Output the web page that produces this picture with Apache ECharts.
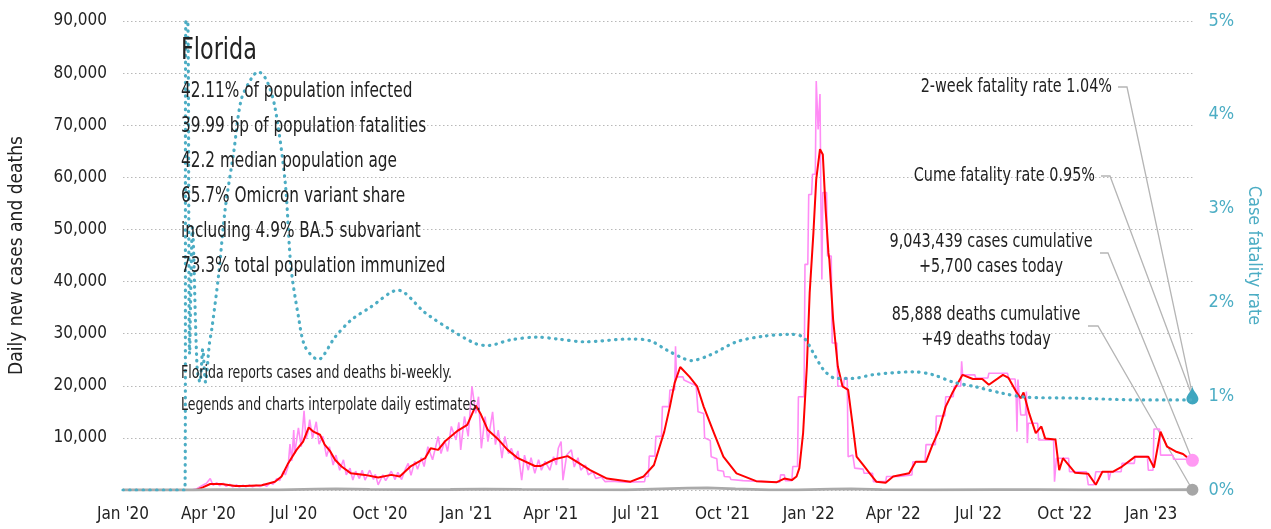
<!DOCTYPE html>
<html>
<head>
<meta charset="utf-8">
<title>Florida</title>
<script src="https://cdn.jsdelivr.net/npm/echarts@6/dist/echarts.min.js"></script>
<style>
  html, body { margin: 0; padding: 0; background: #fff; }
  #chart { width: 1271px; height: 529px; }
</style>
</head>
<body>
<div id="chart"></div>
<script>
// ---- data ----
const xTickDates = ['2020-01-01','2020-04-01','2020-07-01','2020-10-01','2021-01-01','2021-04-01','2021-07-01','2021-10-01','2022-01-01','2022-04-01','2022-07-01','2022-10-01','2023-01-01'];
const xTickLabels = ["Jan '20","Apr '20","Jul '20","Oct '20","Jan '21","Apr '21","Jul '21","Oct '21","Jan '22","Apr '22","Jul '22","Oct '22","Jan '23"];
const lastDate = '2023-02-14';

// daily new cases (raw, pink)
const dailyCases = [
  ['2020-01-01',0],['2020-03-14',0],['2020-03-20',300],['2020-03-26',900],['2020-03-30',1300],['2020-04-03',2200],
  ['2020-04-06',900],['2020-04-10',1400],['2020-04-13',800],['2020-04-17',1300],['2020-04-20',700],['2020-04-24',1100],
  ['2020-04-27',600],['2020-05-01',1000],['2020-05-04',550],['2020-05-08',900],['2020-05-11',600],['2020-05-15',950],
  ['2020-05-18',600],['2020-05-22',900],['2020-05-26',650],['2020-05-30',1100],['2020-06-02',700],['2020-06-06',1400],
  ['2020-06-09',1100],['2020-06-13',2200],['2020-06-16',1800],['2020-06-20',3600],['2020-06-22',2900],['2020-06-25',4500],
  ['2020-06-27',8800],['2020-06-29',5600],['2020-07-01',11500],['2020-07-02',7000],['2020-07-06',11900],['2020-07-09',8300],
  ['2020-07-12',15200],['2020-07-14',9800],['2020-07-16',10900],['2020-07-18',13500],['2020-07-21',9900],['2020-07-25',13100],
  ['2020-07-28',8800],['2020-08-01',10300],['2020-08-05',6400],['2020-08-08',8300],['2020-08-12',4800],['2020-08-15',6700],
  ['2020-08-19',3800],['2020-08-23',5800],['2020-08-26',2900],['2020-08-30',4200],['2020-09-02',1900],['2020-09-05',3600],
  ['2020-09-09',2200],['2020-09-12',3800],['2020-09-15',1900],['2020-09-20',3800],['2020-09-24',2000],['2020-09-26',3000],
  ['2020-09-29',1000],['2020-10-04',2900],['2020-10-07',1800],['2020-10-13',3600],['2020-10-17',2000],['2020-10-20',3400],
  ['2020-10-24',2000],['2020-10-28',4000],['2020-10-31',5100],['2020-11-03',2800],['2020-11-07',5500],['2020-11-10',4000],
  ['2020-11-14',6200],['2020-11-17',4500],['2020-11-21',8300],['2020-11-26',5800],['2020-12-02',10300],['2020-12-05',7000],
  ['2020-12-09',9500],['2020-12-12',7400],['2020-12-16',12200],['2020-12-21',9600],['2020-12-24',13000],['2020-12-26',7700],
  ['2020-12-30',14100],['2021-01-03',10300],['2021-01-07',19900],['2021-01-11',14700],['2021-01-14',17900],['2021-01-17',8000],
  ['2021-01-21',14100],['2021-01-24',9300],['2021-01-29',15000],['2021-02-01',8700],['2021-02-04',11500],['2021-02-08',6100],
  ['2021-02-11',10300],['2021-02-15',7000],['2021-02-18',8000],['2021-02-22',5800],['2021-02-25',7500],['2021-03-01',1900],
  ['2021-03-04',6700],['2021-03-08',3800],['2021-03-11',6200],['2021-03-15',3200],['2021-03-19',5800],['2021-03-22',3800],
  ['2021-03-26',5500],['2021-03-31',3800],['2021-04-04',6400],['2021-04-07',4800],['2021-04-09',8000],['2021-04-12',9300],
  ['2021-04-14',1900],['2021-04-18',6700],['2021-04-23',7700],['2021-04-26',4400],['2021-04-30',6200],['2021-05-03',3800],
  ['2021-05-08',4800],['2021-05-11',2900],['2021-05-16',3500],['2021-05-19',2200],['2021-05-25',2500],['2021-05-29',1600],
  ['2021-06-05',1700],['2021-06-12',1600],['2021-06-20',1500],['2021-07-10',1600],['2021-07-11',2600],['2021-07-14',2600],
  ['2021-07-15',6500],['2021-07-21',6500],['2021-07-22',10300],['2021-07-28',10300],['2021-07-29',16000],['2021-08-05',16000],
  ['2021-08-06',19200],['2021-08-11',19200],['2021-08-12',27600],['2021-08-13',21700],['2021-08-20',21700],['2021-08-21',21100],
  ['2021-09-03',20000],['2021-09-05',15000],['2021-09-11',14700],['2021-09-12',10000],['2021-09-18',9500],['2021-09-19',6400],
  ['2021-09-25',6000],['2021-09-26',3800],['2021-10-02',3600],['2021-10-03',2600],['2021-10-09',2500],['2021-10-10',2000],
  ['2021-10-23',1800],['2021-10-24',1500],['2021-12-01',1500],['2021-12-02',2900],['2021-12-06',2900],['2021-12-07',1800],
  ['2021-12-14',1800],['2021-12-15',4500],['2021-12-20',4500],['2021-12-21',17900],['2021-12-27',17900],['2021-12-28',43300],
  ['2021-12-31',43300],['2022-01-01',56700],['2022-01-04',56700],['2022-01-05',60600],['2022-01-08',60600],['2022-01-09',78500],
  ['2022-01-11',69200],['2022-01-13',76000],['2022-01-14',55000],['2022-01-15',40400],['2022-01-16',57100],['2022-01-20',57100],
  ['2022-01-21',44900],['2022-01-25',44900],['2022-01-26',28200],['2022-01-31',28200],['2022-02-01',19900],['2022-02-07',19900],
  ['2022-02-08',21500],['2022-02-11',21500],['2022-02-12',6400],['2022-02-17',6700],['2022-02-19',4200],['2022-02-28',4000],
  ['2022-03-01',3200],['2022-03-10',3200],['2022-03-11',1600],['2022-03-24',1600],['2022-03-25',2600],['2022-04-07',2600],
  ['2022-04-08',2900],['2022-04-21',2900],['2022-04-22',5400],['2022-05-05',5400],['2022-05-06',8700],['2022-05-16',8700],
  ['2022-05-17',14200],['2022-05-26',14200],['2022-05-27',17900],['2022-06-04',17900],['2022-06-05',19900],['2022-06-12',19900],
  ['2022-06-13',24700],['2022-06-14',22100],['2022-06-27',22100],['2022-06-28',21500],['2022-07-11',21500],['2022-07-12',22400],
  ['2022-08-01',22400],['2022-08-02',21300],['2022-08-09',21300],['2022-08-10',18600],['2022-08-11',11200],['2022-08-12',21200],
  ['2022-08-14',21200],['2022-08-15',14400],['2022-08-20',14400],['2022-08-21',18900],['2022-08-22',9000],['2022-08-23',12800],
  ['2022-09-02',12800],['2022-09-03',9600],['2022-09-19',9600],['2022-09-20',1600],['2022-09-22',6100],['2022-10-05',6100],
  ['2022-10-06',3500],['2022-10-24',3500],['2022-10-26',1000],['2022-11-01',1000],['2022-11-03',3500],['2022-11-16',3500],
  ['2022-11-17',1900],['2022-11-19',3500],['2022-11-30',3500],['2022-12-01',5100],['2022-12-14',5100],['2022-12-15',6400],
  ['2022-12-28',6400],['2022-12-29',3800],['2023-01-03',3800],['2023-01-04',11700],['2023-01-10',11700],['2023-01-11',6700],
  ['2023-01-24',6700],['2023-01-25',5900],['2023-02-07',5900],['2023-02-08',5700],['2023-02-14',5700]
];

// 7-day average of new cases (red)
const avgCases = [
  ['2020-01-01',0],['2020-03-19',0],['2020-03-26',500],['2020-04-03',1150],['2020-04-15',1150],['2020-04-30',770],
  ['2020-05-10',770],['2020-05-28',900],['2020-06-11',1600],['2020-06-18',2600],['2020-06-25',5100],['2020-07-04',7700],
  ['2020-07-11',9300],['2020-07-17',12000],['2020-07-22',11200],['2020-07-29',10600],['2020-08-03',8700],['2020-08-09',7400],
  ['2020-08-14',5800],['2020-08-21',4500],['2020-08-31',3200],['2020-09-15',2900],['2020-09-29',2400],['2020-10-13',2900],
  ['2020-10-22',2600],['2020-11-03',4600],['2020-11-18',6100],['2020-11-24',8000],['2020-12-02',7700],['2020-12-09',9300],
  ['2020-12-23',11400],['2021-01-02',12500],['2021-01-11',16200],['2021-01-16',14700],['2021-01-24',11500],['2021-02-03',9900],
  ['2021-02-14',7700],['2021-02-25',6100],['2021-03-15',4600],['2021-03-21',4600],['2021-04-05',5900],['2021-04-19',6500],
  ['2021-04-29',5400],['2021-05-13',3800],['2021-05-31',2200],['2021-06-25',1600],['2021-07-09',2600],['2021-07-20',4800],
  ['2021-07-31',11200],['2021-08-06',16000],['2021-08-11',20500],['2021-08-17',23600],['2021-08-27',21700],['2021-09-04',19900],
  ['2021-09-11',16000],['2021-09-22',10900],['2021-10-02',6400],['2021-10-16',3200],['2021-11-06',1700],['2021-11-28',1500],
  ['2021-12-06',2200],['2021-12-14',1900],['2021-12-19',2600],['2021-12-22',4200],['2021-12-26',10900],['2021-12-30',23700],
  ['2022-01-02',37800],['2022-01-06',49400],['2022-01-09',59600],['2022-01-13',65400],['2022-01-16',64400],['2022-01-19',53800],
  ['2022-01-22',45500],['2022-01-23',44200],['2022-01-27',32700],['2022-02-01',23700],['2022-02-06',19900],['2022-02-12',19200],
  ['2022-02-17',12200],['2022-02-21',6400],['2022-02-28',4800],['2022-03-07',3200],['2022-03-14',1600],['2022-03-24',1400],
  ['2022-04-01',2600],['2022-04-18',3200],['2022-04-25',5400],['2022-05-06',5400],['2022-05-13',8700],['2022-05-20',11500],
  ['2022-05-27',16000],['2022-06-03',18600],['2022-06-14',22100],['2022-06-25',21300],['2022-07-05',21300],['2022-07-12',20200],
  ['2022-07-27',22100],['2022-08-02',21500],['2022-08-10',18900],['2022-08-15',17600],['2022-08-18',18700],['2022-08-24',14700],
  ['2022-08-31',10900],['2022-09-06',12200],['2022-09-10',9900],['2022-09-21',9700],['2022-09-25',3800],['2022-09-29',6100],
  ['2022-10-12',3300],['2022-10-26',3100],['2022-11-03',1000],['2022-11-10',3500],['2022-11-21',3500],['2022-12-01',4500],
  ['2022-12-15',6400],['2022-12-29',6400],['2023-01-04',4300],['2023-01-11',11200],['2023-01-18',8300],['2023-01-27',7400],
  ['2023-02-04',6900],['2023-02-11',5900],['2023-02-14',5700]
];

// daily deaths (grey)
const dailyDeaths = [
  ['2020-01-01',0],['2020-03-15',0],['2020-04-10',60],['2020-05-15',50],['2020-06-15',40],['2020-07-25',180],
  ['2020-08-15',200],['2020-09-20',110],['2020-11-01',70],['2020-12-15',100],['2021-01-20',160],['2021-03-01',110],
  ['2021-04-20',60],['2021-06-20',40],['2021-08-25',350],['2021-09-15',400],['2021-10-15',200],['2021-11-20',40],
  ['2021-12-20',30],['2022-01-25',180],['2022-02-15',220],['2022-03-20',60],['2022-05-15',20],['2022-07-20',60],
  ['2022-09-01',70],['2022-10-20',30],['2022-12-15',40],['2023-02-14',49]
];

// case fatality rate, % (teal dotted, right axis)
const fatalityRate = [
  ['2020-01-01',0],['2020-03-07',0],['2020-03-08',5],['2020-03-10',5],['2020-03-12',1.45],['2020-03-15',2.8],
  ['2020-03-20',1.3],['2020-03-23',1.15],['2020-03-26',1.5],['2020-03-29',1.15],['2020-04-02',1.55],['2020-04-05',1.74],
  ['2020-04-12',2.3],['2020-04-19',3.0],['2020-04-28',3.6],['2020-05-06',4.16],['2020-05-17',4.39],['2020-05-24',4.46],
  ['2020-06-02',4.37],['2020-06-11',4.08],['2020-06-22',3.27],['2020-06-28',2.38],['2020-07-06',1.85],['2020-07-13',1.53],
  ['2020-07-27',1.39],['2020-08-14',1.63],['2020-08-31',1.81],['2020-09-21',1.95],['2020-10-20',2.13],['2020-11-18',1.89],
  ['2020-12-15',1.71],['2021-01-11',1.56],['2021-01-24',1.54],['2021-02-17',1.60],['2021-03-18',1.63],['2021-04-08',1.61],
  ['2021-05-07',1.58],['2021-06-25',1.61],['2021-07-16',1.59],['2021-08-03',1.49],['2021-08-21',1.40],['2021-08-29',1.38],
  ['2021-09-18',1.44],['2021-10-16',1.58],['2021-11-14',1.64],['2021-12-11',1.66],['2021-12-26',1.63],['2022-01-06',1.46],
  ['2022-01-17',1.28],['2022-01-30',1.19],['2022-02-17',1.19],['2022-03-11',1.23],['2022-04-22',1.26],['2022-05-13',1.23],
  ['2022-06-04',1.15],['2022-06-28',1.10],['2022-07-27',1.03],['2022-08-20',0.99],['2022-10-12',0.98],['2022-12-22',0.96],
  ['2023-02-14',0.96]
];

const statLines = [
  '42.11% of population infected',
  '39.99 bp of population fatalities',
  '42.2 median population age',
  '65.7% Omicron variant share',
  'including 4.9% BA.5 subvariant',
  '73.3% total population immunized'
];

// ---- helpers ----
const FONT = "'DejaVu Sans Condensed', 'Liberation Sans Narrow', 'Roboto', sans-serif";
const TEAL = '#4cadc4';
const t0 = Date.parse('2020-01-01');
const dayOf = s => Math.round((Date.parse(s) - t0) / 864e5);
const toXY = arr => arr.map(d => [dayOf(d[0]), d[1]]);
const xTickDays = xTickDates.map(dayOf);
const lastDay = dayOf(lastDate);

const casesXY = toXY(dailyCases);
const avgXY = toXY(avgCases);
const deathsXY = toXY(dailyDeaths);
const cfrXY = toXY(fatalityRate);

const chart = echarts.init(document.getElementById('chart'));

chart.setOption({
  animation: false,
  textStyle: { fontFamily: FONT },
  grid: { left: 123, right: 74, top: 21, bottom: 39 },
  xAxis: {
    type: 'value',
    min: 0,
    max: lastDay,
    axisLine: { show: false },
    axisTick: { show: false },
    splitLine: { show: false },
    axisLabel: {
      customValues: xTickDays,
      formatter: v => xTickLabels[xTickDays.indexOf(v)] || '',
      color: '#222',
      fontSize: 17,
      fontFamily: FONT,
      margin: 16
    }
  },
  yAxis: [
    {
      type: 'value',
      min: 0,
      max: 90000,
      interval: 10000,
      name: 'Daily new cases and deaths',
      nameLocation: 'middle',
      nameRotate: 90,
      nameGap: 96,
      nameTextStyle: { color: '#222', fontSize: 19, fontFamily: FONT },
      axisLine: { show: false },
      axisTick: { show: false },
      axisLabel: {
        color: '#222',
        fontSize: 17,
        fontFamily: FONT,
        margin: 16,
        formatter: v => v === 0 ? '' : v.toLocaleString('en-US')
      },
      splitLine: { lineStyle: { color: '#b8b8b8', type: [1.5, 2.5], width: 1 } }
    },
    {
      type: 'value',
      min: 0,
      max: 5,
      interval: 1,
      position: 'right',
      name: 'Case fatality rate',
      nameLocation: 'middle',
      nameRotate: -90,
      nameGap: 50,
      nameTextStyle: { color: TEAL, fontSize: 18, fontFamily: FONT },
      axisLine: { show: false },
      axisTick: { show: false },
      axisLabel: { color: TEAL, fontSize: 18, fontFamily: FONT, margin: 16, formatter: '{value}%' },
      splitLine: { show: false }
    }
  ],
  series: [
    {
      name: 'Daily cases',
      type: 'line',
      data: casesXY,
      showSymbol: false,
      lineStyle: { color: '#ff8cf5', width: 1.6 },
      z: 2,
      markPoint: {
        symbol: 'circle',
        symbolSize: 13,
        itemStyle: { color: '#ff99f3' },
        label: { show: false },
        data: [{ coord: casesXY[casesXY.length - 1] }]
      }
    },
    {
      name: '7-day average',
      type: 'line',
      data: avgXY,
      showSymbol: false,
      lineStyle: { color: '#ff0000', width: 2 },
      z: 3
    },
    {
      name: 'Daily deaths',
      type: 'line',
      data: deathsXY,
      showSymbol: false,
      lineStyle: { color: '#aaaaaa', width: 2.8 },
      z: 4,
      markPoint: {
        symbol: 'circle',
        symbolSize: 12,
        itemStyle: { color: '#a6a6a6' },
        label: { show: false },
        data: [{ coord: deathsXY[deathsXY.length - 1] }]
      }
    },
    {
      name: 'Case fatality rate',
      type: 'line',
      yAxisIndex: 1,
      data: cfrXY,
      showSymbol: false,
      smooth: 0.3,
      lineStyle: { color: TEAL, width: 3.2, type: [0.5, 6.2], cap: 'round' },
      z: 5,
      markPoint: {
        symbol: 'path://M5,0 C5,5 10,8 10,12.5 A5,5 0 1 1 0,12.5 C0,8 5,5 5,0 Z',
        symbolSize: [12, 19],
        symbolOffset: [0, -5],
        itemStyle: { color: '#3fa6bf' },
        label: { show: false },
        data: [{ coord: cfrXY[cfrXY.length - 1] }]
      }
    }
  ]
});

// ---- annotations ----
const pCases = chart.convertToPixel({ xAxisIndex: 0, yAxisIndex: 0 }, casesXY[casesXY.length - 1]);
const pDeaths = chart.convertToPixel({ xAxisIndex: 0, yAxisIndex: 0 }, deathsXY[deathsXY.length - 1]);
const pRate = chart.convertToPixel({ xAxisIndex: 0, yAxisIndex: 1 }, cfrXY[cfrXY.length - 1]);

// condensed look: draw at a taller size and squeeze horizontally
const txt = (x, y, text, size, squeeze, align) => ({
  type: 'text', x, y, z: 10, scaleX: squeeze,
  style: { text, fill: '#222', font: size + 'px ' + FONT, textAlign: align || 'left', textVerticalAlign: 'middle' }
});
const leader = pts => ({
  type: 'polyline', z: 1, silent: true,
  shape: { points: pts },
  style: { stroke: '#b5b5b5', lineWidth: 1.3, fill: null }
});

const graphics = [txt(181, 51, 'Florida', 31, 0.8)];
statLines.forEach((s, i) => graphics.push(txt(181, 92 + i * 35, s, 21, 0.81)));
graphics.push(txt(181, 374, 'Florida reports cases and deaths bi-weekly.', 17, 0.82));
graphics.push(txt(181, 406, 'Legends and charts interpolate daily estimates.', 17, 0.82));

graphics.push(txt(1112, 87, '2-week fatality rate 1.04%', 20, 0.8, 'right'));
graphics.push(txt(1095, 176, 'Cume fatality rate 0.95%', 20, 0.8, 'right'));
graphics.push(txt(991, 242, '9,043,439 cases cumulative', 20, 0.8, 'center'));
graphics.push(txt(991, 267, '+5,700 cases today', 20, 0.8, 'center'));
graphics.push(txt(986, 315, '85,888 deaths cumulative', 20, 0.8, 'center'));
graphics.push(txt(986, 340, '+49 deaths today', 20, 0.8, 'center'));

graphics.push(leader([[1118, 87], [1127, 87], [pRate[0] - 1, pRate[1] - 10]]));
graphics.push(leader([[1101, 176], [1110, 176], [pRate[0] - 1, pRate[1] - 6]]));
graphics.push(leader([[1100, 253], [1108, 253], [pCases[0], pCases[1]]]));
graphics.push(leader([[1088, 326], [1098, 326], [pDeaths[0], pDeaths[1]]]));

chart.setOption({ graphic: graphics });
</script>
</body>
</html>
